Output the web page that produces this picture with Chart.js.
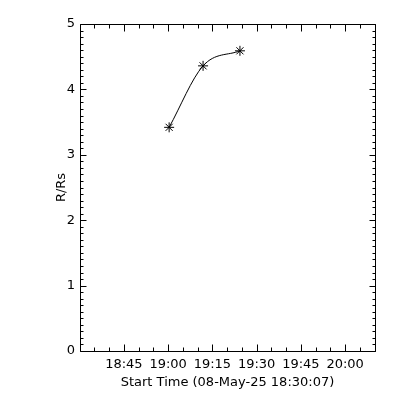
<!DOCTYPE html>
<html lang="en">
<head>
    <meta charset="UTF-8">
    <title>R/Rs vs start time</title>
    <script src="https://cdn.jsdelivr.net/npm/chart.js@4.4.1/dist/chart.umd.min.js"></script>
    <style>
        body { margin: 0; background: #fff; }
        #wrap { width: 400px; height: 400px; }
    </style>
</head>
<body>
<div id="wrap"><canvas id="chart-area" width="400" height="400"></canvas></div>
<script>
    // data
    var startTime = '18:30:07';
    var spanMinutes = 100;
    var pointTimes = ['19:00:20', '19:11:50', '19:24:20'];
    var radius = [3.42, 4.36, 4.59];
    var xTickLabels = ['18:45', '19:00', '19:15', '19:30', '19:45', '20:00'];
    var yTicks = [0, 1, 2, 3, 4, 5];

    function clockMinutes(t) {
        var p = t.split(':');
        return (+p[0]) * 60 + (+p[1]) + (p.length > 2 ? (+p[2]) / 60 : 0);
    }
    function sinceStart(t) {
        return clockMinutes(t) - clockMinutes(startTime);
    }

    var points = [];
    for (var i = 0; i < pointTimes.length; i++) {
        points.push({x: sinceStart(pointTimes[i]), y: radius[i]});
    }
    var xTickValues = xTickLabels.map(sinceStart);

    var font = {family: 'DejaVu Sans', size: 13};

    // IDL style box with inward ticks on all four sides
    var boxTicks = {
        id: 'boxTicks',
        afterDatasetsDraw: function (chart) {
            var ctx = chart.ctx, a = chart.chartArea;
            var xs = chart.scales.x, ys = chart.scales.y;
            ctx.save();
            ctx.strokeStyle = '#000';
            ctx.lineWidth = 1;
            ctx.beginPath();
            var L = a.left + 0.5, R = a.right + 0.5, T = a.top + 0.5, B = a.bottom + 0.5;
            ctx.rect(L, T, R - L, B - T);

            function xTick(v, len) {
                var px = Math.round(xs.getPixelForValue(v)) + 0.5;
                ctx.moveTo(px, B); ctx.lineTo(px, B - len);
                ctx.moveTo(px, T); ctx.lineTo(px, T + len);
            }
            function yTick(v, len) {
                var py = Math.round(ys.getPixelForValue(v)) + 0.5;
                ctx.moveTo(L, py); ctx.lineTo(L + len, py);
                ctx.moveTo(R, py); ctx.lineTo(R - len, py);
            }
            // minor x every 5 minutes, counted from the first labelled tick
            var v = xTickValues[0];
            while (v - 5 >= xs.min) v -= 5;
            for (; v <= xs.max; v += 5) xTick(v, 4);
            xTickValues.forEach(function (t) { xTick(t, 7); });
            for (var k = 0; k <= 50; k++) yTick(k / 10, 3);
            yTicks.forEach(function (t) { yTick(t, 6); });
            ctx.stroke();
            ctx.restore();
        }
    };

    var config = {
        type: 'line',
        data: {
            datasets: [{
                data: points,
                borderColor: '#000',
                borderWidth: 1,
                cubicInterpolationMode: 'monotone',
                pointStyle: 'star',
                pointRadius: 5,
                pointBorderWidth: 1,
                pointBorderColor: '#000',
                pointBackgroundColor: '#000',
                fill: false
            }]
        },
        options: {
            responsive: false,
            animation: false,
            layout: {padding: {left: 0, right: 25, top: 24, bottom: 0}},
            plugins: {legend: {display: false}, tooltip: {enabled: false}},
            scales: {
                x: {
                    type: 'linear',
                    min: 0,
                    max: spanMinutes,
                    grid: {display: false, drawTicks: false},
                    border: {display: false},
                    afterBuildTicks: function (s) {
                        s.ticks = xTickValues.map(function (v) { return {value: v}; });
                    },
                    afterFit: function (s) { s.height = 49; },
                    ticks: {
                        autoSkip: false,
                        maxRotation: 0,
                        padding: 6,
                        color: '#000',
                        font: font,
                        callback: function (v, idx) { return xTickLabels[idx]; }
                    },
                    title: {
                        display: true,
                        text: 'Start Time (08-May-25 ' + startTime + ')',
                        color: '#000',
                        font: font,
                        padding: {top: 0, bottom: 10}
                    }
                },
                y: {
                    min: 0,
                    max: 5,
                    grid: {display: false, drawTicks: false},
                    border: {display: false},
                    afterBuildTicks: function (s) {
                        s.ticks = yTicks.map(function (v) { return {value: v}; });
                    },
                    afterFit: function (s) { s.width = 80; },
                    ticks: {
                        padding: 5,
                        color: '#000',
                        font: font
                    },
                    title: {
                        display: true,
                        text: 'R/Rs',
                        color: '#000',
                        font: font,
                        padding: {top: 54, bottom: 0}
                    }
                }
            }
        },
        plugins: [boxTicks]
    };

    var ctx = document.getElementById('chart-area').getContext('2d');
    window.myLine = new Chart(ctx, config);
</script>
</body>
</html>
